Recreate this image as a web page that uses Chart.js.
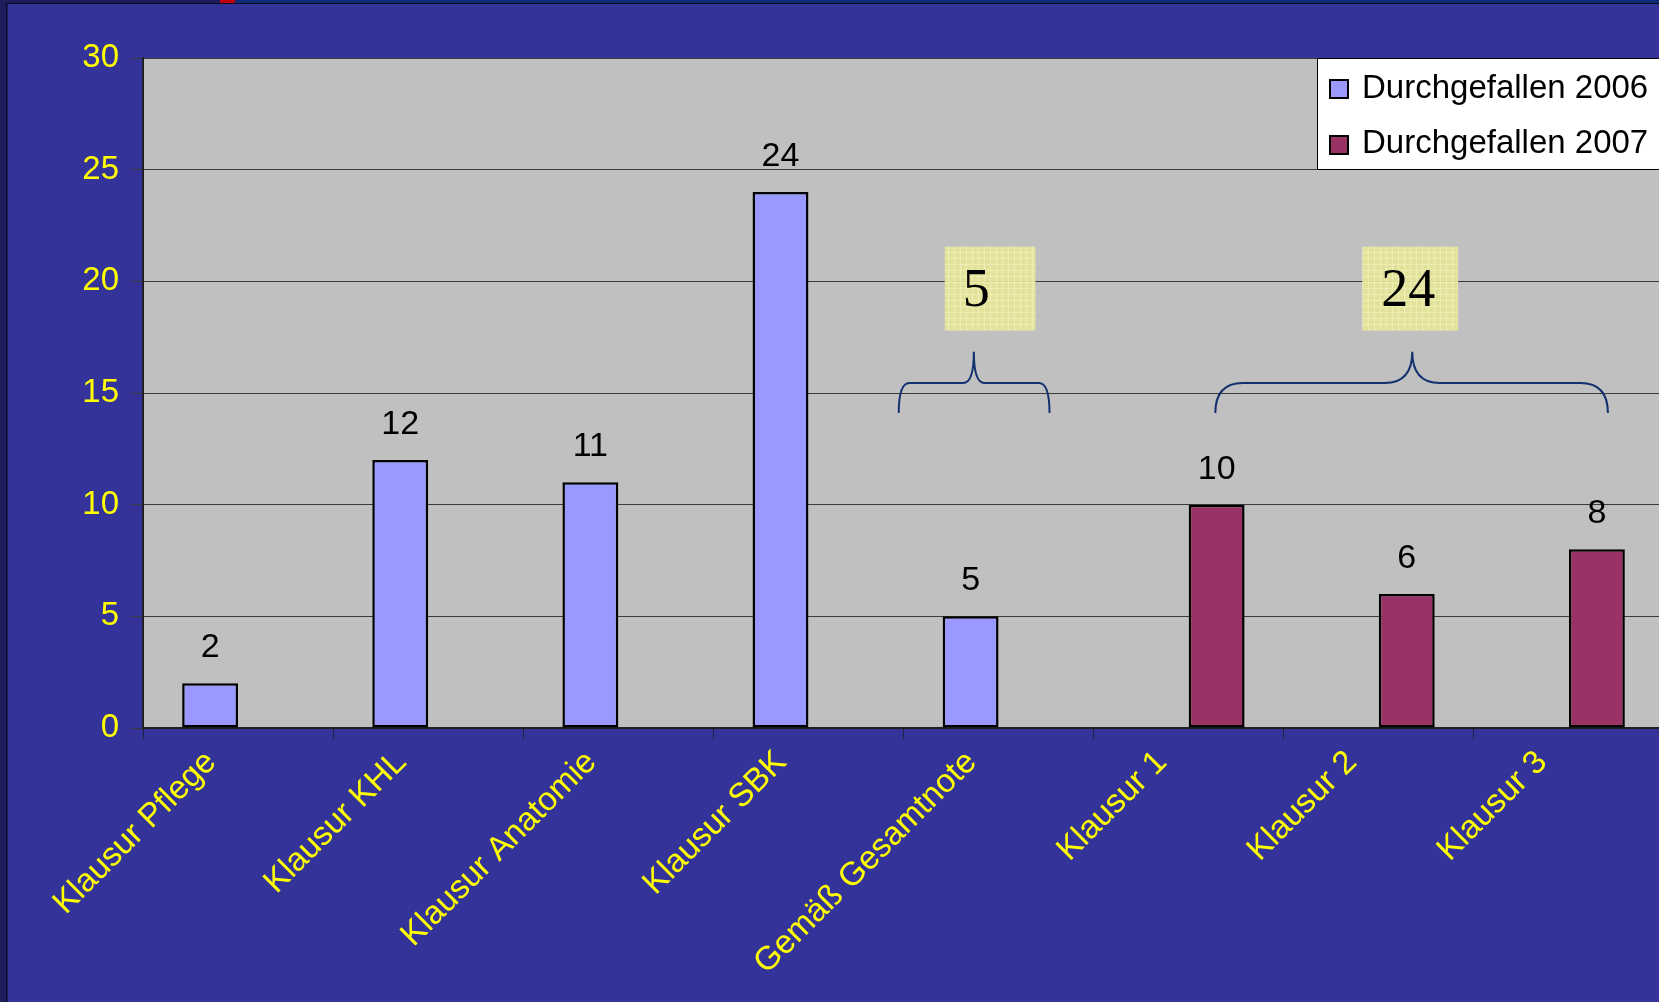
<!DOCTYPE html>
<html>
<head>
<meta charset="utf-8">
<title>Durchgefallen 2006 / 2007</title>
<script src="https://cdn.jsdelivr.net/npm/chart.js@4.4.1/dist/chart.umd.min.js"></script>
<style>
  html, body { margin: 0; padding: 0; background: #333399; overflow: hidden; }
  #wrap { position: absolute; left: 0; top: 0; width: 1680px; height: 1002px; }
</style>
</head>
<body>
<div id="wrap"><canvas id="c" width="1680" height="1002"></canvas></div>
<script>
// ---- data ----
const categories = [
  'Klausur Pflege', 'Klausur KHL', 'Klausur Anatomie', 'Klausur SBK',
  'Gemäß Gesamtnote', 'Klausur 1', 'Klausur 2', 'Klausur 3'
];
const failed2006 = [2, 12, 11, 24, 5, null, null, null];
const failed2007 = [null, null, null, null, null, 10, 6, 8];
const seriesNames = ['Durchgefallen 2006', 'Durchgefallen 2007'];
const yTickValues = [0, 5, 10, 15, 20, 25, 30];
// groups summed under a brace: [first category, last category, series]
const braceGroups = [[4, 4, 0], [5, 7, 1]];

const SANS = "'Liberation Sans', Arial, sans-serif";
const SERIF = "'Liberation Serif', 'Times New Roman', serif";
const seriesColors = ['#9999FF', '#993366'];

// slide background, plot fill
const backgroundPlugin = {
  id: 'background',
  beforeDraw(chart) {
    const { ctx, chartArea: a } = chart;
    ctx.save();
    ctx.fillStyle = '#333399';
    ctx.fillRect(0, 0, chart.width, chart.height);
    // slide frame strips
    ctx.fillStyle = '#1d1d5e';
    ctx.fillRect(0, 0, 6, chart.height);
    ctx.fillRect(0, 0, chart.width, 3);
    ctx.fillStyle = '#0f2a78';
    ctx.fillRect(235, 0, chart.width - 235, 3);
    ctx.fillStyle = '#c00010';
    ctx.fillRect(220, 0, 15, 3);
    ctx.fillStyle = '#0a0a20';
    ctx.fillRect(6, 3, 1.5, chart.height);
    ctx.fillRect(6, 3, chart.width, 1);
    // plot area
    ctx.fillStyle = '#C0C0C0';
    ctx.fillRect(a.left, a.top, a.right - a.left, a.bottom - a.top);
    ctx.restore();
  }
};

// value labels above each bar
const valueLabelPlugin = {
  id: 'valueLabels',
  afterDatasetsDraw(chart) {
    const { ctx } = chart;
    ctx.save();
    ctx.font = '34px ' + SANS;
    ctx.fillStyle = '#000';
    ctx.textAlign = 'center';
    ctx.textBaseline = 'alphabetic';
    chart.data.datasets.forEach((ds, di) => {
      const meta = chart.getDatasetMeta(di);
      meta.data.forEach((bar, i) => {
        const v = ds.data[i];
        if (v === null || v === undefined) return;
        ctx.fillText(String(v), bar.x, bar.y - 26);
      });
    });
    ctx.restore();
  }
};

// braces with group totals, and the legend box
const annotationPlugin = {
  id: 'annotations',
  afterDatasetsDraw(chart) {
    const { ctx, chartArea: a } = chart;
    const xs = chart.scales.x, ys = chart.scales.y;
    const cw = xs.getPixelForValue(1) - xs.getPixelForValue(0);
    const cx = (i, f) => xs.getPixelForValue(i) + f * cw;

    // pale yellow hatched fill
    const pc = document.createElement('canvas');
    pc.width = 6; pc.height = 6;
    const p = pc.getContext('2d');
    p.fillStyle = '#e6e69a'; p.fillRect(0, 0, 6, 6);
    p.fillStyle = '#f2f2b4'; p.fillRect(0, 0, 6, 1); p.fillRect(0, 0, 1, 6);
    p.fillStyle = '#dcdc98'; p.fillRect(3, 3, 1, 1);
    const hatch = ctx.createPattern(pc, 'repeat');

    const layout = [
      { left: -0.525, right: 0.268, peakCat: 4, peak: -0.13, boxL: -0.283, boxR: 0.194, text: -0.118 },
      { left: 0.14, right: 0.205, peakCat: 6, peak: 0.176, boxL: -0.087, boxR: 0.417, text: 0.155 }
    ];

    braceGroups.forEach((g, k) => {
      const [from, to, si] = g;
      const vals = si === 0 ? failed2006 : failed2007;
      let total = 0;
      for (let i = from; i <= to; i++) total += vals[i] || 0;
      const L = layout[k];
      const x0 = cx(from, L.left), x1 = cx(to, L.right), xp = cx(L.peakCat, L.peak);
      const yTip = ys.getPixelForValue(14.1);
      const yH = ys.getPixelForValue(15.45);
      const yPk = ys.getPixelForValue(16.85);
      const rx = Math.max(9, (x1 - x0) * 0.07);

      ctx.save();
      ctx.strokeStyle = '#13306f';
      ctx.lineWidth = 2;
      ctx.beginPath();
      ctx.moveTo(x0, yTip);
      ctx.quadraticCurveTo(x0, yH, x0 + rx, yH);
      ctx.lineTo(xp - rx, yH);
      ctx.quadraticCurveTo(xp, yH, xp, yPk);
      ctx.quadraticCurveTo(xp, yH, xp + rx, yH);
      ctx.lineTo(x1 - rx, yH);
      ctx.quadraticCurveTo(x1, yH, x1, yTip);
      ctx.stroke();

      // total box
      const bl = cx(L.peakCat, L.boxL), br = cx(L.peakCat, L.boxR);
      const bt = ys.getPixelForValue(21.55), bb = ys.getPixelForValue(17.8);
      ctx.globalAlpha = 0.92;
      ctx.fillStyle = hatch;
      ctx.fillRect(bl, bt, br - bl, bb - bt);
      ctx.globalAlpha = 1;
      ctx.fillStyle = '#000';
      ctx.font = '54px ' + SERIF;
      ctx.textAlign = 'center';
      ctx.textBaseline = 'middle';
      ctx.fillText(String(total), cx(L.peakCat, L.text), ys.getPixelForValue(19.6) + 2);
      ctx.restore();
    });

    // legend
    ctx.save();
    const lx = a.right - 347, ly = a.top;
    ctx.fillStyle = '#fff';
    ctx.fillRect(lx, ly, 400, 111);
    ctx.strokeStyle = '#000';
    ctx.lineWidth = 1;
    ctx.strokeRect(lx + 0.5, ly + 0.5, 400, 111);
    ctx.font = '33px ' + SANS;
    ctx.textAlign = 'left';
    ctx.textBaseline = 'alphabetic';
    seriesNames.forEach((name, i) => {
      const my = ly + 22 + i * 56;
      ctx.fillStyle = seriesColors[i];
      ctx.fillRect(lx + 13, my, 18, 18);
      ctx.lineWidth = 2;
      ctx.strokeStyle = '#000';
      ctx.strokeRect(lx + 13, my, 18, 18);
      ctx.fillStyle = '#000';
      ctx.fillText(name, lx + 45, ly + 40 + i * 55);
    });
    ctx.restore();
  }
};

new Chart(document.getElementById('c'), {
  type: 'bar',
  data: {
    labels: categories,
    datasets: [
      { label: seriesNames[0], data: failed2006, backgroundColor: seriesColors[0],
        borderColor: '#000', borderWidth: 2.5, borderSkipped: false },
      { label: seriesNames[1], data: failed2007, backgroundColor: seriesColors[1],
        borderColor: '#000', borderWidth: 2.5, borderSkipped: false }
    ]
  },
  options: {
    responsive: false,
    animation: false,
    events: [],
    layout: { padding: { top: 58, right: 16, left: 0, bottom: 0 } },
    datasets: { bar: { categoryPercentage: 0.588, barPercentage: 1.0 } },
    plugins: { legend: { display: false }, tooltip: { enabled: false } },
    scales: {
      x: {
        offset: true,
        grid: { display: true, drawOnChartArea: false, drawTicks: true, tickLength: 11, color: '#202040', offset: true },
        border: { display: true, color: '#202020', width: 2 },
        ticks: {
          color: '#FFFF00', font: { family: SANS, size: 33 },
          minRotation: 45, maxRotation: 45, autoSkip: false, padding: 4, labelOffset: -27
        },
        afterFit(s) { s.height = 1002 - 728; }
      },
      y: {
        min: 0, max: 30,
        afterBuildTicks(s) { s.ticks = yTickValues.map(v => ({ value: v })); },
        grid: { color: '#3a3a3a', lineWidth: 1, drawTicks: true, tickLength: 12 },
        border: { display: true, color: '#202020', width: 2 },
        ticks: { color: '#FFFF00', font: { family: SANS, size: 33 }, padding: 12 },
        afterFit(s) { s.width = 143; }
      }
    }
  },
  plugins: [backgroundPlugin, valueLabelPlugin, annotationPlugin]
});
</script>
</body>
</html>
